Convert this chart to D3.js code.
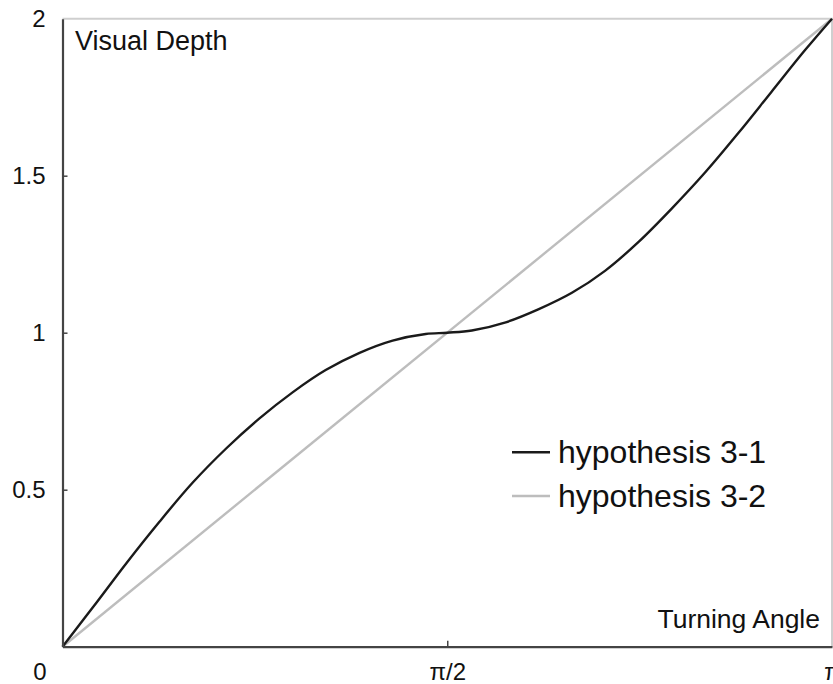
<!DOCTYPE html>
<html>
<head>
<meta charset="utf-8">
<script src="https://cdn.jsdelivr.net/npm/d3@7"></script>
<style>
  body { margin: 0; background: #fff; }
  svg { display: block; font-family: "Liberation Sans", Arial, sans-serif; }
</style>
</head>
<body>
<div id="chart"></div>
<script>
// turning angle, in units of pi
var angle31 = [0, 0.04, 0.083, 0.126, 0.169, 0.213, 0.256, 0.299, 0.342, 0.386, 0.429, 0.472, 0.5,
               0.532, 0.576, 0.619, 0.662, 0.705, 0.749, 0.792, 0.835, 0.878, 0.921, 0.965, 1];
// visual depth, hypothesis 3-1
var depth31 = [0, 0.127, 0.266, 0.398, 0.522, 0.632, 0.727, 0.810, 0.881, 0.936, 0.975, 0.996, 1.0,
               1.007, 1.033, 1.075, 1.127, 1.197, 1.290, 1.396, 1.510, 1.635, 1.766, 1.900, 2.0];
// hypothesis 3-2 is a straight line
var angle32 = [0, 1];
var depth32 = [0, 2];

var xTicks = [0, 0.5, 1];
var xTickLabels = ["0", "π/2", "π"];
var yTicks = [0.5, 1, 1.5, 2];

var seriesNames = ["hypothesis 3-1", "hypothesis 3-2"];
var seriesColors = ["#1a1a1a", "#bdbdbd"];

var width = 833, height = 684;
var plotLeft = 62.5, plotRight = 832, plotTop = 18.7, plotBottom = 646.7;

var svg = d3.select("#chart").append("svg")
	.attr("width", width)
	.attr("height", height);

var x = d3.scaleLinear().domain([0, 1]).range([plotLeft, plotRight]);
var y = d3.scaleLinear().domain([0, 2]).range([plotBottom, plotTop]);

// top and right frame (light)
svg.append("path")
	.attr("d", "M" + plotLeft + "," + plotTop + "H" + plotRight + "V" + plotBottom)
	.style("fill", "none")
	.style("stroke", "#cfcfcf")
	.style("stroke-width", 2);

// lines
var line = d3.line()
	.x(function(d) {return x(d[0]);})
	.y(function(d) {return y(d[1]);})
	.curve(d3.curveCatmullRom.alpha(0.5));

var series = [
	d3.zip(angle32, depth32),
	d3.zip(angle31, depth31)
];
var seriesColorOrder = [seriesColors[1], seriesColors[0]];

svg.selectAll(".curve")
	.data(series).enter()
	.append("path")
	.attr("class", "curve")
	.attr("d", line)
	.style("fill", "none")
	.style("stroke", function(d, i) {return seriesColorOrder[i];})
	.style("stroke-width", 2.4)
	.style("stroke-linejoin", "round");

// y axis
var yAxis = svg.append("g")
	.attr("transform", "translate(" + plotLeft + ",0)")
	.call(d3.axisLeft(y).tickValues(yTicks).tickSizeInner(-5).tickSizeOuter(0).tickPadding(17)
		.tickFormat(function(d) {return d3.format("")(d);}));

// x axis
var xAxis = svg.append("g")
	.attr("transform", "translate(0," + plotBottom + ")")
	.call(d3.axisBottom(x).tickValues(xTicks).tickSizeInner(-6).tickSizeOuter(0).tickPadding(16)
		.tickFormat(function(d, i) {return xTickLabels[i];}));

[yAxis, xAxis].forEach(function(ax) {
	ax.select(".domain").style("stroke", "#444").style("stroke-width", 2.2);
	ax.selectAll(".tick line").style("stroke", "#444").style("stroke-width", 1.5);
	ax.selectAll(".tick text")
		.style("font-family", "Liberation Sans, Arial, sans-serif")
		.style("font-size", "24px")
		.style("fill", "#111");
});
xAxis.selectAll(".tick").filter(function(d) {return d === 0 || d === 1;}).select("line").remove();
xAxis.selectAll(".tick text").filter(function(d) {return d === 0;}).attr("x", -23);
yAxis.selectAll(".tick").filter(function(d) {return d === 2;}).select("line").remove();

// axis titles
svg.append("text")
	.attr("x", 75).attr("y", 50)
	.style("font-size", "27px")
	.style("fill", "#111")
	.text("Visual Depth");

svg.append("text")
	.attr("x", 820).attr("y", 628)
	.attr("text-anchor", "end")
	.style("font-size", "26.5px")
	.style("fill", "#111")
	.text("Turning Angle");

// legend
var legend = svg.selectAll(".legend")
	.data(seriesNames).enter()
	.append("g")
	.attr("class", "legend")
	.attr("transform", function(d, i) {return "translate(512," + (452.3 + i * 43.7) + ")";});

legend.append("line")
	.attr("x1", 0).attr("x2", 38)
	.style("stroke", function(d, i) {return seriesColors[i];})
	.style("stroke-width", 2.4);

legend.append("text")
	.attr("x", 46).attr("y", 0)
	.attr("dy", "0.33em")
	.style("font-size", "32px")
	.style("fill", "#111")
	.text(function(d) {return d;});
</script>
</body>
</html>
